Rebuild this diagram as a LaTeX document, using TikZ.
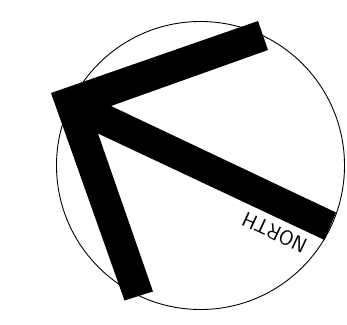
\documentclass[tikz,border=0pt]{standalone}
\begin{document}
\begin{tikzpicture}[
    x=1pt, y=-1pt,
    ring/.style={draw, line width=0.9pt},
    pointer/.style={fill=black, draw=none},
    lbl/.style={font=\fontsize{21}{21}\selectfont\sffamily, inner sep=0pt}
]
\useasboundingbox (0,0) rectangle (347,324);

% Compass ring
\draw[ring] (200.5,165.5) circle[radius=144];

% North pointer (bent arrow)
\fill[pointer] (51,93) -- (258,21) -- (268,50) -- (111,106)
    -- (336,212.5) -- (324.5,240) -- (98,133.5)
    -- (153,291.5) -- (124.5,300.5) -- cycle;

% Label
\node[lbl, rotate=155] (north) at (274.5,232.5) {NORTH};

\end{tikzpicture}
\end{document}
